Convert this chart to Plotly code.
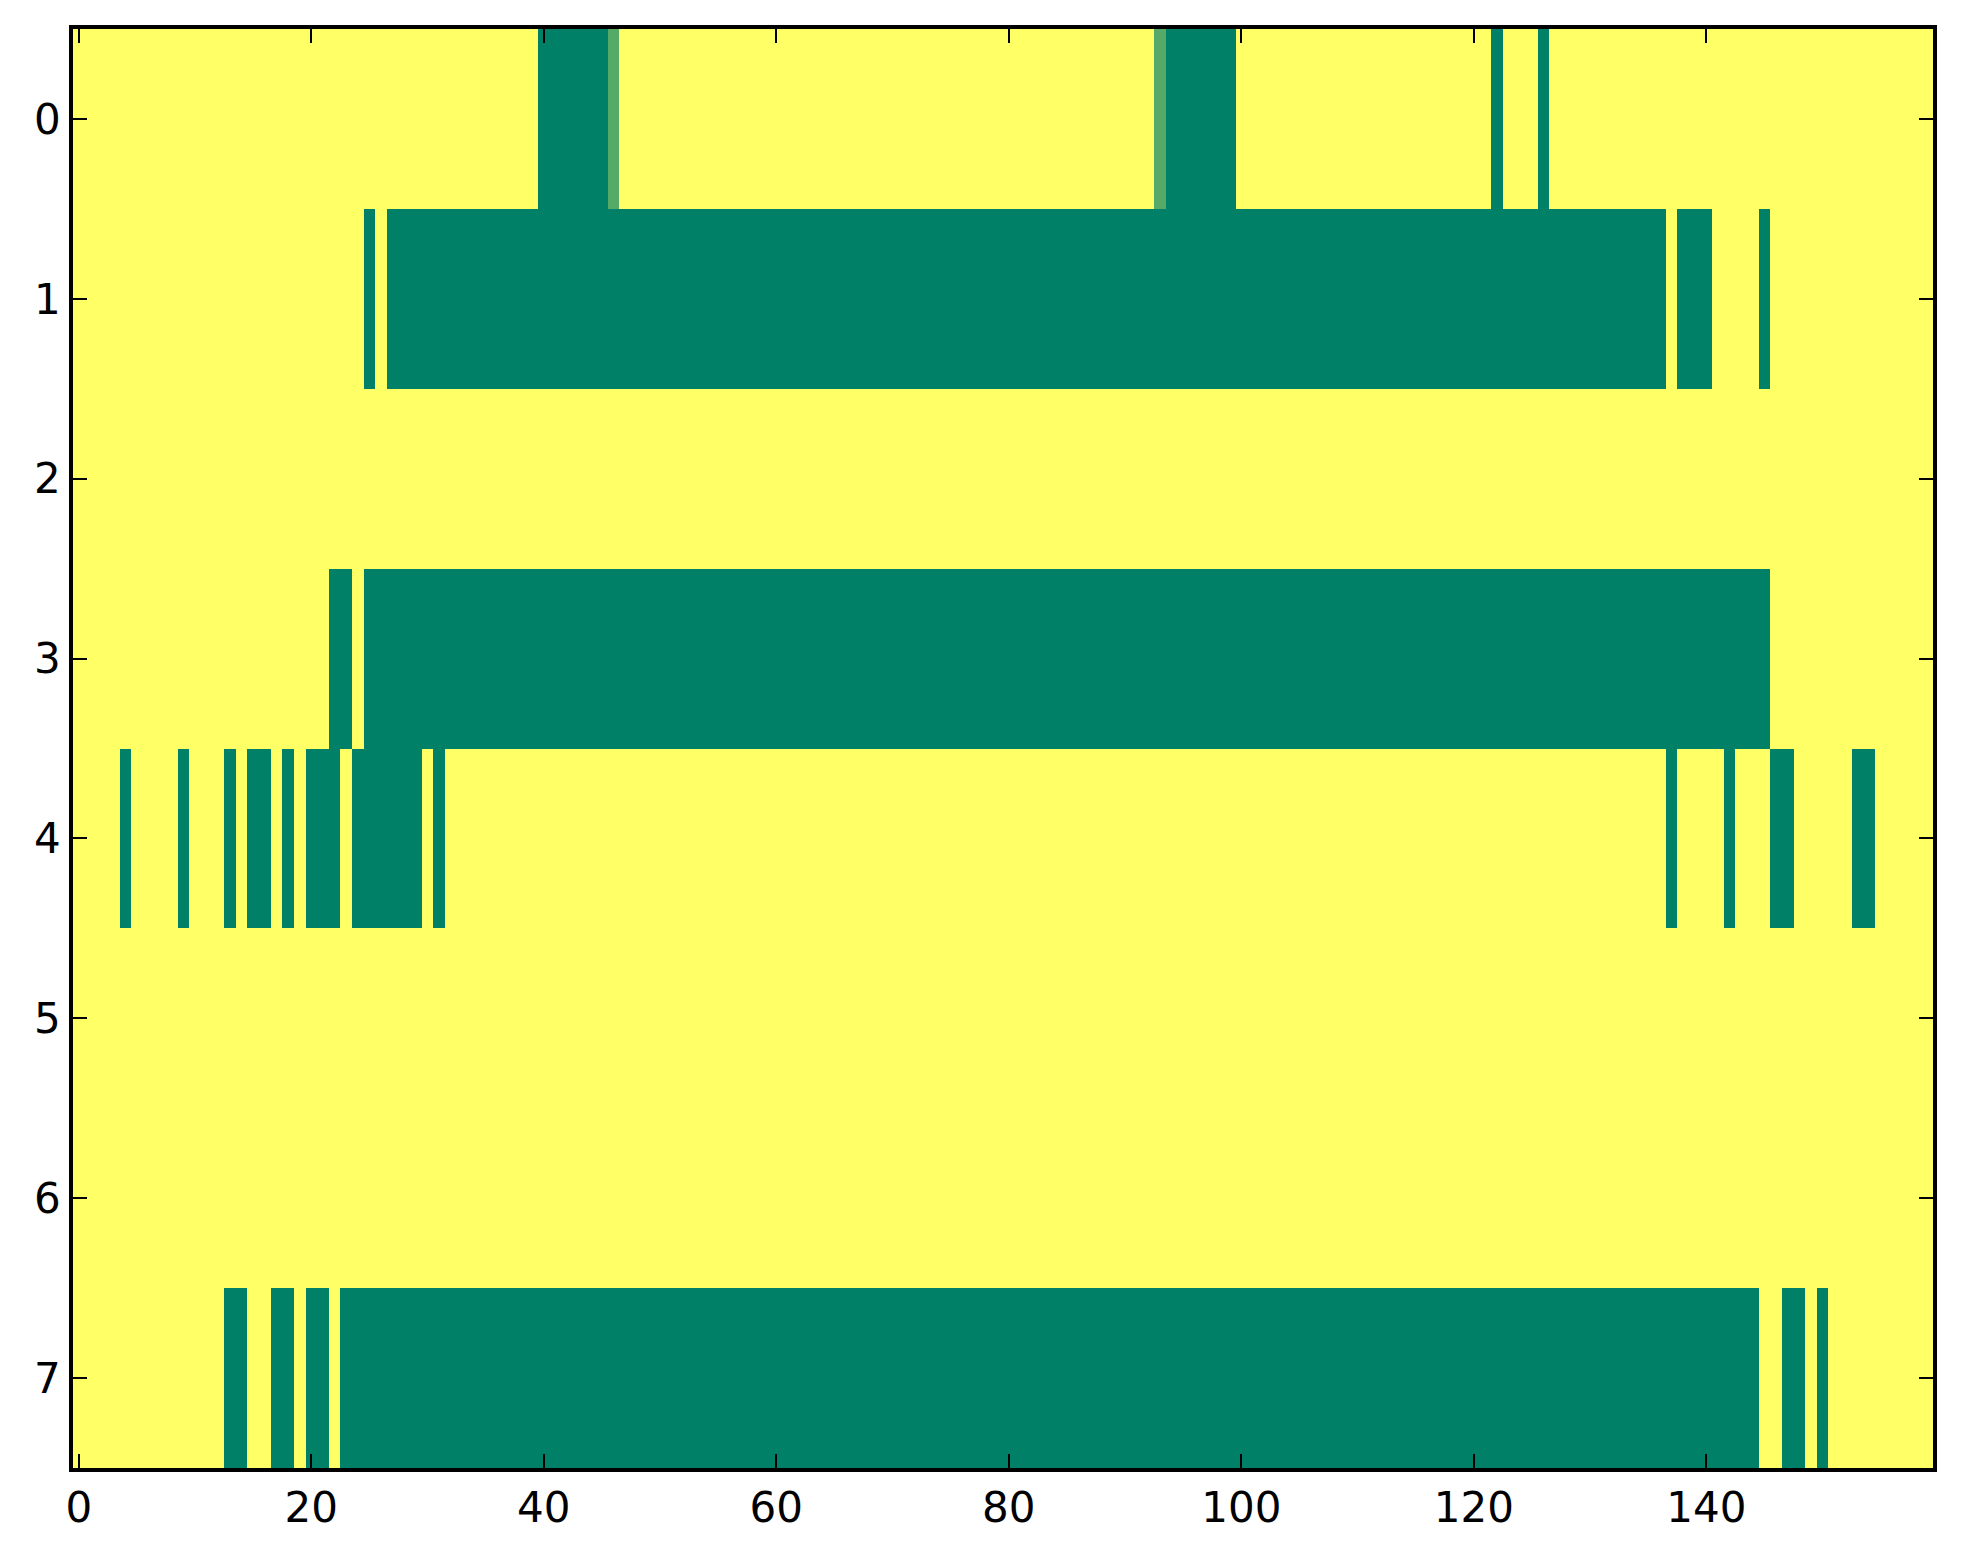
import plotly.graph_objects as go

# columnas: (inicio, fin, valor) por fila; el resto vale 1 (amarillo)
n_cols = 160
row_0 = [(40, 45, 0.0), (46, 46, 0.33), (93, 93, 0.33), (94, 99, 0.0), (122, 122, 0.0), (126, 126, 0.0)]
row_1 = [(25, 25, 0.0), (27, 136, 0.0), (138, 140, 0.0), (145, 145, 0.0)]
row_2 = []
row_3 = [(22, 23, 0.0), (25, 145, 0.0)]
row_4 = [(4, 4, 0.0), (9, 9, 0.0), (13, 13, 0.0), (15, 16, 0.0), (18, 18, 0.0), (20, 22, 0.0),
         (24, 29, 0.0), (31, 31, 0.0), (137, 137, 0.0), (142, 142, 0.0), (146, 147, 0.0),
         (153, 154, 0.0)]
row_5 = []
row_6 = []
row_7 = [(13, 14, 0.0), (17, 18, 0.0), (20, 21, 0.0), (23, 144, 0.0), (147, 148, 0.0), (150, 150, 0.0)]

rows = [row_0, row_1, row_2, row_3, row_4, row_5, row_6, row_7]
x_ticks = [0, 20, 40, 60, 80, 100, 120, 140]
y_ticks = [0, 1, 2, 3, 4, 5, 6, 7]

z = []
for runs in rows:
    line = [1.0] * n_cols
    for a, b, v in runs:
        for k in range(a, b + 1):
            line[k] = v
    z.append(line)

# mapa "summer" de matplotlib
summer = [[0.0, "rgb(0,128,102)"], [1.0, "rgb(255,255,102)"]]

fig = go.Figure(go.Heatmap(
    z=z,
    x=list(range(n_cols)),
    y=list(range(len(rows))),
    colorscale=summer,
    zmin=0, zmax=1,
    showscale=False,
))

axis_style = dict(
    showline=True, linecolor="black", linewidth=3.5, mirror="allticks",
    ticks="inside", ticklen=14, tickwidth=2, tickcolor="black",
    showgrid=False, zeroline=False,
    tickfont=dict(family="DejaVu Sans", size=42, color="black"),
)

fig.update_xaxes(range=[-0.5, n_cols - 0.5], tickvals=x_ticks, **axis_style)
fig.update_yaxes(range=[len(rows) - 0.5, -0.5], tickvals=y_ticks, **axis_style)

fig.update_layout(
    width=1963, height=1564,
    margin=dict(l=65, r=38, t=21, b=104),
    paper_bgcolor="white", plot_bgcolor="white",
)

fig.write_html("out.html")
